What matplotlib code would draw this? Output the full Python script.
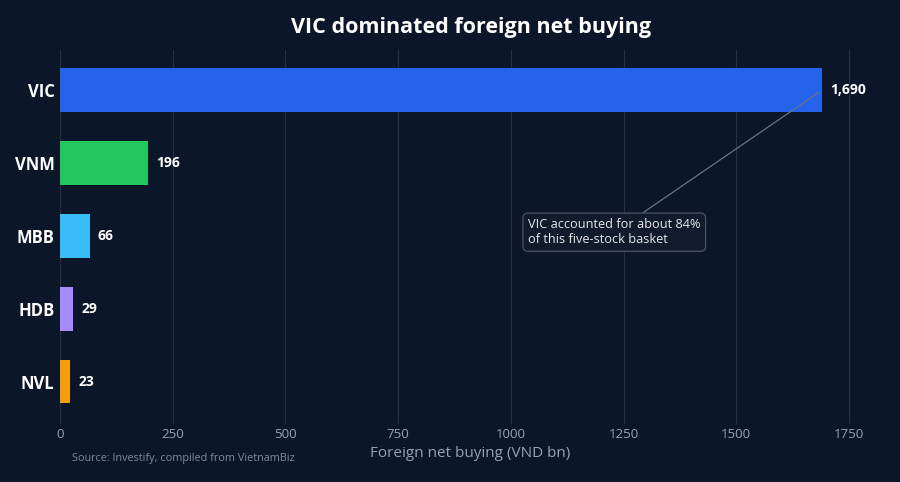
import matplotlib.pyplot as plt

plt.rcParams['font.family'] = ['Open Sans', 'DejaVu Sans']

# data
tickers = ['VIC', 'VNM', 'MBB', 'HDB', 'NVL']
net_buy = [1690, 196, 66, 29, 23]
colors = ['#2563eb', '#22c55e', '#38bdf8', '#a78bfa', '#f59e0b']
xticks = [0, 250, 500, 750, 1000, 1250, 1500, 1750]

bg = '#0b1628'
grid_col = '#243044'
muted = '#94a3b8'

fig = plt.figure(figsize=(9, 4.82), dpi=100, facecolor=bg)
ax = fig.add_axes([60/900, 1 - 418/482, (868-60)/900, (418-50)/482])
ax.set_facecolor(bg)

y = list(range(len(tickers)))
ax.barh(y, net_buy, height=0.6, color=colors, zorder=3)
for yi, v in zip(y, net_buy):
    ax.text(v + 18, yi, f'{v:,}', va='center', ha='left', color='white',
            fontsize=10, fontweight='bold', zorder=4)

ax.set_xlim(0, 1792)
ax.set_ylim(4.5, -0.55)
ax.set_yticks(y)
ax.set_yticklabels(tickers, fontsize=12, fontweight='bold', color='white')
ax.set_xticks(xticks)
ax.set_xticklabels([str(t) for t in xticks], fontsize=9.5, color=muted)
ax.tick_params(axis='y', length=0, pad=4)
ax.tick_params(axis='x', length=4, color=grid_col, pad=3)
ax.grid(axis='x', color=grid_col, linewidth=0.8, zorder=0)
for s in ax.spines.values():
    s.set_visible(False)

ax.set_xlabel('Foreign net buying (VND bn)', fontsize=11, color=muted, labelpad=5)
ax.xaxis.set_label_coords(0.508, -0.075)

ax.annotate('VIC accounted for about 84%\nof this five-stock basket',
            xy=(1683, 0.03), xytext=(1038, 1.95),
            fontsize=9.2, color='#e5e7eb', ha='left', va='center',
            bbox=dict(boxstyle='round,pad=0.4', fc='#111b2c', ec='#4b5563', lw=0.9),
            arrowprops=dict(arrowstyle='-', color='#64748b', lw=0.9,
                            shrinkA=0, shrinkB=0, relpos=(0.62, 1.0)),
            zorder=5)

fig.text(471/900, 1 - 27/482, 'VIC dominated foreign net buying', ha='center', va='center',
         fontsize=15.5, fontweight='bold', color='white')
fig.text(72/900, 1 - 459/482, 'Source: Investify, compiled from VietnamBiz',
         ha='left', va='center', fontsize=7.8, color='#7c8ba0')

fig.savefig('out.png', dpi=100, facecolor=bg)
